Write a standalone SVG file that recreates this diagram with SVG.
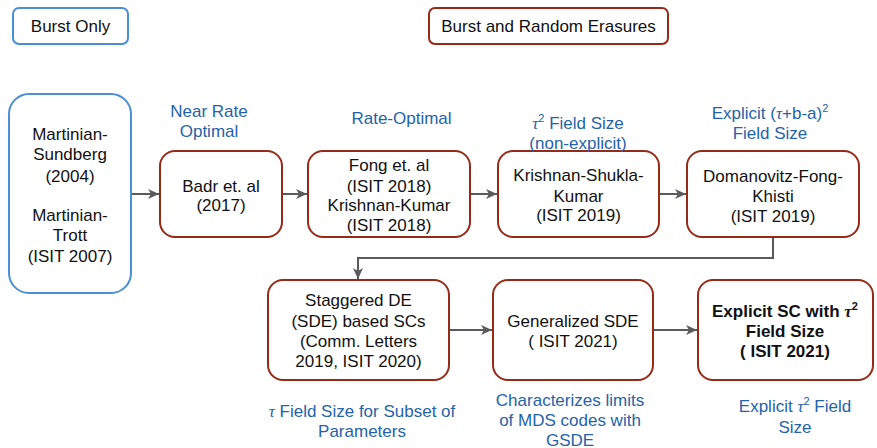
<svg xmlns="http://www.w3.org/2000/svg" width="877" height="448" viewBox="0 0 877 448">
<style>
.t{font-family:"Liberation Sans",Arial,sans-serif;font-size:17px;fill:#111;text-anchor:middle}
.b{font-weight:bold}
.l{font-family:"Liberation Sans",Arial,sans-serif;font-size:17px;fill:#2463a8;text-anchor:middle}
.g{font-family:"Liberation Serif","Times New Roman",serif;font-style:italic}
.red{fill:#fff;stroke:#962a18;stroke-width:2}
.blue{fill:#fff;stroke:#4a8fd6;stroke-width:2}
.c{fill:none;stroke:#5a5a5a;stroke-width:2}
</style>
<defs>
<marker id="ah" markerWidth="12" markerHeight="10" refX="11" refY="5" orient="auto" markerUnits="userSpaceOnUse">
<path d="M0,0 L11,5 L0,10 L3,5 Z" fill="#5a5a5a"/>
</marker>
</defs>

<g id="legend-burst-only">
<rect class="blue" x="13" y="8" width="115" height="36" rx="6"/>
<text class="t" x="70.5" y="32">Burst Only</text>
</g>
<g id="legend-burst-random">
<rect class="red" x="429" y="8" width="239" height="36" rx="6"/>
<text class="t" x="548.5" y="32">Burst and Random Erasures</text>
</g>

<g id="connectors">
<path class="c" d="M131,194 L159,194" marker-end="url(#ah)"/>
<path class="c" d="M282,194 L307,194" marker-end="url(#ah)"/>
<path class="c" d="M470,194 L497,194" marker-end="url(#ah)"/>
<path class="c" d="M659,194 L686,194" marker-end="url(#ah)"/>
<path class="c" d="M773,237 L773,258 L358,258 L358,279" marker-end="url(#ah)"/>
<path class="c" d="M449,330 L492,330" marker-end="url(#ah)"/>
<path class="c" d="M653,330 L697,330" marker-end="url(#ah)"/>
</g>

<g id="martinian">
<rect class="blue" x="9" y="94" width="122" height="199" rx="20"/>
<text class="t" x="70" y="140">Martinian-</text>
<text class="t" x="70" y="160">Sundberg</text>
<text class="t" x="70" y="182">(2004)</text>
<text class="t" x="70" y="221">Martinian-</text>
<text class="t" x="70" y="241">Trott</text>
<text class="t" x="70" y="262">(ISIT 2007)</text>
</g>

<g id="badr">
<rect class="red" x="160" y="151" width="122" height="86" rx="15"/>
<text class="t" x="221" y="192">Badr et. al</text>
<text class="t" x="221" y="211">(2017)</text>
</g>

<g id="fong">
<rect class="red" x="308" y="151" width="162" height="86" rx="15"/>
<text class="t" x="389" y="171">Fong et. al</text>
<text class="t" x="389" y="192">(ISIT 2018)</text>
<text class="t" x="389" y="211">Krishnan-Kumar</text>
<text class="t" x="389" y="231">(ISIT 2018)</text>
</g>

<g id="ksk">
<rect class="red" x="498" y="151" width="161" height="86" rx="15"/>
<text class="t" x="578.5" y="181">Krishnan-Shukla-</text>
<text class="t" x="578.5" y="202">Kumar</text>
<text class="t" x="578.5" y="221">(ISIT 2019)</text>
</g>

<g id="dfk">
<rect class="red" x="687" y="151" width="172" height="86" rx="15"/>
<text class="t" x="773" y="182">Domanovitz-Fong-</text>
<text class="t" x="773" y="202">Khisti</text>
<text class="t" x="773" y="222">(ISIT 2019)</text>
</g>

<g id="sde">
<rect class="red" x="268" y="280" width="181" height="100" rx="15"/>
<text class="t" x="358.5" y="306">Staggered DE</text>
<text class="t" x="358.5" y="327">(SDE) based SCs</text>
<text class="t" x="358.5" y="347">(Comm. Letters</text>
<text class="t" x="358.5" y="367">2019, ISIT 2020)</text>
</g>

<g id="gsde">
<rect class="red" x="493" y="280" width="160" height="100" rx="15"/>
<text class="t" x="573" y="327">Generalized SDE</text>
<text class="t" x="573" y="347">( ISIT 2021)</text>
</g>

<g id="explicit">
<rect class="red" x="698" y="280" width="175" height="100" rx="15"/>
<text class="t b" x="785" y="317">Explicit SC with <tspan class="g">τ</tspan><tspan font-size="11" dy="-7">2</tspan></text>
<text class="t b" x="785" y="337">Field Size</text>
<text class="t b" x="785" y="357">( ISIT 2021)</text>
</g>

<g id="labels">
<text class="l" x="209" y="117">Near Rate</text>
<text class="l" x="209" y="137">Optimal</text>
<text class="l" x="401.5" y="124">Rate-Optimal</text>
<text class="l" x="578" y="129"><tspan class="g">τ</tspan><tspan font-size="11" dy="-7">2</tspan><tspan dy="7"> Field Size</tspan></text>
<text class="l" x="578" y="149">(non-explicit)</text>
<text class="l" x="770" y="119">Explicit (<tspan class="g">τ</tspan>+b-a)<tspan font-size="11" dy="-7">2</tspan></text>
<text class="l" x="770" y="139">Field Size</text>
<text class="l" x="362" y="417"><tspan class="g">τ</tspan> Field Size for Subset of</text>
<text class="l" x="362" y="437">Parameters</text>
<text class="l" x="570" y="406">Characterizes limits</text>
<text class="l" x="570" y="426">of MDS codes with</text>
<text class="l" x="570" y="446">GSDE</text>
<text class="l" x="795" y="412">Explicit <tspan class="g">τ</tspan><tspan font-size="11" dy="-7">2</tspan><tspan dy="7"> Field</tspan></text>
<text class="l" x="795" y="433">Size</text>
</g>
</svg>
